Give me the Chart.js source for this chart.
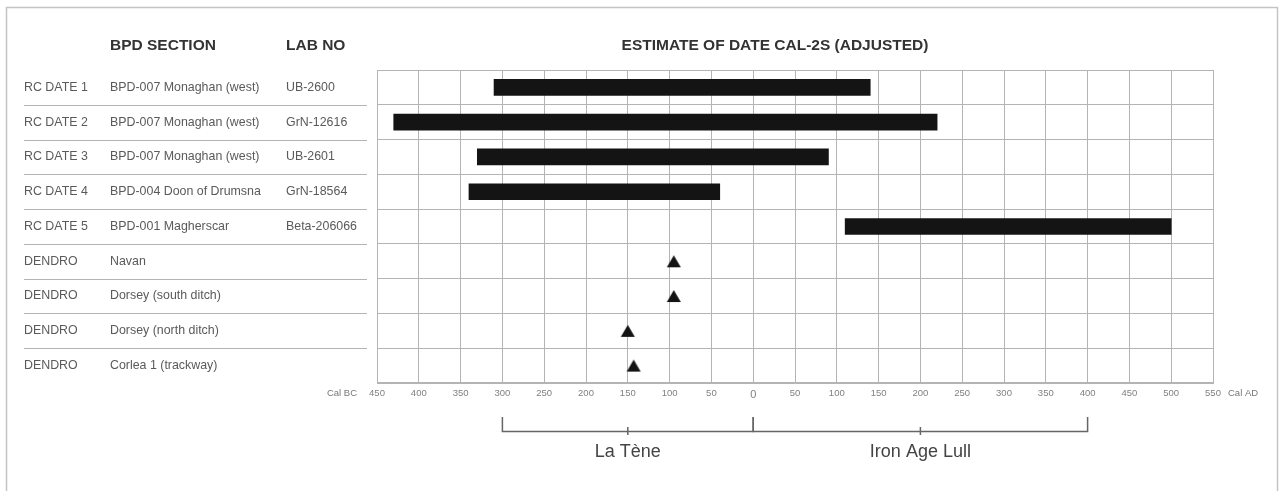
<!DOCTYPE html>
<html>
<head>
<meta charset="utf-8">
<script src="https://cdn.jsdelivr.net/npm/chart.js@4/dist/chart.umd.min.js"></script>
<style>
  html, body { margin: 0; padding: 0; background: #ffffff; }
  #wrap { width: 1285px; height: 491px; }
</style>
</head>
<body>
<div id="wrap"><canvas id="c" width="1285" height="491"></canvas></div>
<script>
// Row keys (one per table line) and the table columns
const rowIds   = ['r1', 'r2', 'r3', 'r4', 'r5', 'd1', 'd2', 'd3', 'd4'];
const rowKinds = ['RC DATE 1', 'RC DATE 2', 'RC DATE 3', 'RC DATE 4', 'RC DATE 5',
                  'DENDRO', 'DENDRO', 'DENDRO', 'DENDRO'];
const sections = ['BPD-007 Monaghan (west)', 'BPD-007 Monaghan (west)', 'BPD-007 Monaghan (west)',
                  'BPD-004 Doon of Drumsna', 'BPD-001 Magherscar',
                  'Navan', 'Dorsey (south ditch)', 'Dorsey (north ditch)', 'Corlea 1 (trackway)'];
const labNos   = ['UB-2600', 'GrN-12616', 'UB-2601', 'GrN-18564', 'Beta-206066', '', '', '', ''];

// Calibrated 2-sigma ranges (negative = BC, positive = AD)
const rcStart  = [-310, -430, -330, -340, 110];
const rcEnd    = [140, 220, 90, -40, 500];

// Dendrochronological dates (BC as negative)
const dendroRows  = ['d1', 'd2', 'd3', 'd4'];
const dendroDates = [-95, -95, -150, -143];

// Axis range and cultural periods shown under the axis
const axisMin = -450, axisMax = 550, axisStep = 50;
const periods = [
  { name: 'La Tène',        from: -300, to: 0 },
  { name: 'Iron Age Lull',  from: 0,    to: 400 }
];

const barData = rowIds.map((id, i) => i < rcStart.length ? [rcStart[i], rcEnd[i]] : null);
const dendroData = dendroRows.map((id, i) => ({ x: dendroDates[i], y: id }));

const FONT = '"Liberation Sans", Arial, Helvetica, sans-serif';

// Solid triangle marker, centred on its own box
const marker = document.createElement('canvas');
marker.width = 16; marker.height = 16;
(function () {
  const m = marker.getContext('2d');
  m.fillStyle = '#141414';
  m.beginPath();
  m.moveTo(8, 2);
  m.lineTo(15, 14);
  m.lineTo(1, 14);
  m.closePath();
  m.fill();
})();

const tablePlugin = {
  id: 'table',
  beforeDraw(chart) {
    const ctx = chart.ctx;
    ctx.save();
    ctx.fillStyle = '#ffffff';
    ctx.fillRect(0, 0, chart.width, chart.height);
    ctx.strokeStyle = '#c4c4c4';
    ctx.lineWidth = 1.5;
    ctx.strokeRect(6.5, 7.5, 1271, 500);
    ctx.restore();
  },
  afterDraw(chart) {
    const ctx = chart.ctx;
    const y = chart.scales.y;
    const x = chart.scales.x;
    const area = chart.chartArea;
    ctx.save();

    // column headings
    ctx.fillStyle = '#333';
    ctx.font = 'bold 15.5px ' + FONT;
    ctx.textBaseline = 'middle';
    ctx.textAlign = 'left';
    ctx.fillText('BPD SECTION', 110, 46);
    ctx.fillText('LAB NO', 286, 46);
    ctx.textAlign = 'center';
    ctx.fillText('ESTIMATE OF DATE CAL-2S (ADJUSTED)', 775, 46);

    // table rows
    ctx.font = '12.4px ' + FONT;
    ctx.fillStyle = '#5a5a5a';
    ctx.textAlign = 'left';
    const half = (y.getPixelForValue(1) - y.getPixelForValue(0)) / 2;
    rowIds.forEach((id, i) => {
      const cy = y.getPixelForValue(i);
      ctx.fillText(rowKinds[i], 24, cy);
      ctx.fillText(sections[i], 110, cy);
      if (labNos[i]) ctx.fillText(labNos[i], 286, cy);
      if (i < rowIds.length - 1) {
        const ly = Math.round(cy + half) + 0.5;
        ctx.strokeStyle = '#b4b4b4';
        ctx.lineWidth = 1;
        ctx.beginPath();
        ctx.moveTo(24, ly);
        ctx.lineTo(367, ly);
        ctx.stroke();
      }
    });

    // BC / AD captions beside the tick labels
    ctx.font = '9.5px ' + FONT;
    ctx.fillStyle = '#777';
    ctx.textAlign = 'right';
    ctx.fillText('Cal BC', 357, area.bottom + 10);
    ctx.textAlign = 'left';
    ctx.fillText('Cal AD', 1228, area.bottom + 10);

    // period brackets
    ctx.strokeStyle = '#666';
    ctx.lineWidth = 1.5;
    periods.forEach(p => {
      const x0 = x.getPixelForValue(p.from);
      const x1 = x.getPixelForValue(p.to);
      const xm = (x0 + x1) / 2;
      ctx.beginPath();
      ctx.moveTo(x0, 417); ctx.lineTo(x0, 431.5);
      ctx.lineTo(x1, 431.5); ctx.lineTo(x1, 417);
      ctx.moveTo(xm, 427); ctx.lineTo(xm, 435);
      ctx.stroke();
      ctx.fillStyle = '#444';
      ctx.font = '18px ' + FONT;
      ctx.textAlign = 'center';
      ctx.fillText(p.name, xm, 452);
    });
    ctx.restore();
  }
};

new Chart(document.getElementById('c'), {
  type: 'bar',
  data: {
    labels: rowIds,
    datasets: [
      {
        type: 'bar',
        data: barData,
        backgroundColor: '#141414',
        borderWidth: 0,
        barThickness: 16,
        grouped: false
      },
      {
        type: 'scatter',
        data: dendroData,
        pointStyle: marker,
        radius: 8
      }
    ]
  },
  options: {
    indexAxis: 'y',
    responsive: false,
    animation: false,
    layout: { padding: { left: 377, right: 72, top: 70, bottom: 93 } },
    plugins: { legend: { display: false }, tooltip: { enabled: false } },
    scales: {
      x: {
        type: 'linear',
        min: axisMin,
        max: axisMax,
        afterFit: s => { s.height = 15; },
        afterBuildTicks: s => {
          const t = [];
          for (let v = axisMin; v <= axisMax; v += axisStep) t.push({ value: v });
          s.ticks = t;
        },
        grid: { color: '#b4b4b4', lineWidth: 1, drawTicks: false },
        border: { color: '#b4b4b4' },
        ticks: {
          padding: 5,
          color: '#808080',
          maxRotation: 0,
          autoSkip: false,
          font: ctx => ({ family: FONT, size: ctx.tick && ctx.tick.value === 0 ? 11 : 9.5 }),
          callback: v => String(Math.abs(v))
        }
      },
      y: {
        type: 'category',
        labels: rowIds,
        offset: true,
        afterFit: s => { s.width = 0; },
        grid: { offset: true, color: '#b4b4b4', lineWidth: 1, drawTicks: false },
        border: { color: '#b4b4b4' },
        ticks: { display: false }
      }
    }
  },
  plugins: [tablePlugin]
});
</script>
</body>
</html>
